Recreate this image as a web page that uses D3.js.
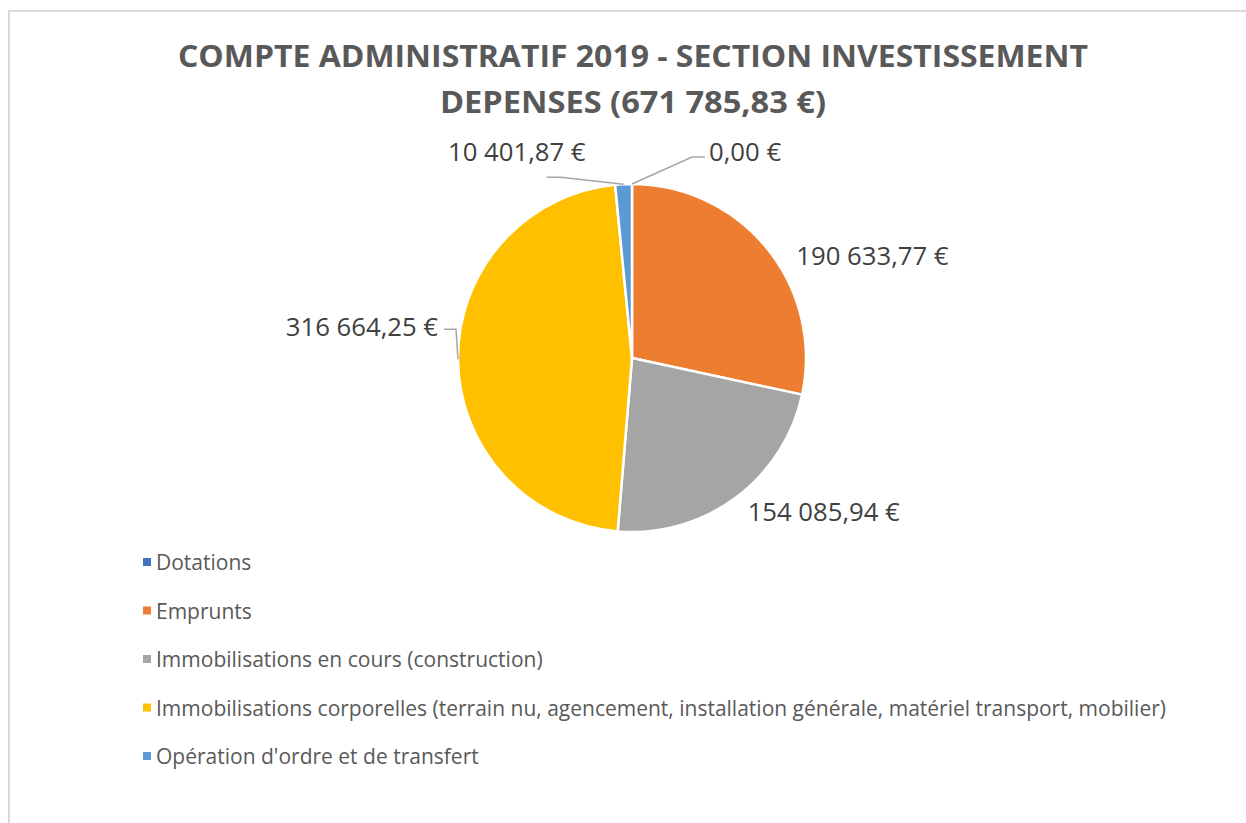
<!DOCTYPE html>
<html>
<head>
<meta charset="utf-8">
<script src="https://cdn.jsdelivr.net/npm/d3@7"></script>
<style>
  body { margin: 0; background: #fff; }
  svg { display: block; }
</style>
</head>
<body>
<div id="chart-container"></div>
<script>
const categories = [
  "Dotations",
  "Emprunts",
  "Immobilisations en cours (construction)",
  "Immobilisations corporelles (terrain nu, agencement, installation générale, matériel transport, mobilier)",
  "Opération d'ordre et de transfert",
];
const values = [0, 190633.77, 154085.94, 316664.25, 10401.87];
const colors = ["#4472C4", "#ED7D31", "#A5A5A5", "#FFC000", "#5B9BD5"];
const titleLines = [
  "COMPTE ADMINISTRATIF 2019 - SECTION INVESTISSEMENT",
  "DEPENSES (671 785,83 €)",
];

const width = 1246;
const height = 823;
const cx = 632;
const cy = 358;
const radius = 174;
const textColor = "#595959";

const fr = d3.formatLocale({
  decimal: ",",
  thousands: " ",
  grouping: [3],
  currency: ["", " €"],
});
const euro = fr.format("$,.2f");

const svg = d3
  .select("#chart-container")
  .append("svg")
  .attr("width", width)
  .attr("height", height);

// chart area border (runs off the right / bottom edge)
svg
  .append("rect")
  .attr("x", 9)
  .attr("y", 11)
  .attr("width", width + 20)
  .attr("height", height + 20)
  .attr("fill", "none")
  .attr("stroke", "#d9d9d9")
  .attr("stroke-width", 2);

// title
const titleWidths = [910, 386];
svg
  .append("g")
  .selectAll("text")
  .data(titleLines)
  .join("text")
  .attr("x", cx + 1)
  .attr("y", (d, i) => 67 + i * 46)
  .attr("text-anchor", "middle")
  .attr("font-family", "'Open Sans', sans-serif")
  .attr("font-weight", 700)
  .attr("font-size", 30)
  .attr("fill", textColor)
  .attr("textLength", (d, i) => titleWidths[i])
  .attr("lengthAdjust", "spacingAndGlyphs")
  .text((d) => d);

// pie
const pie = d3.pie().sort(null).value((d) => d);
const arcs = pie(values);
const arc = d3.arc().innerRadius(0).outerRadius(radius);

const g = svg.append("g").attr("transform", `translate(${cx},${cy})`);

g.selectAll("path")
  .data(arcs)
  .join("path")
  .attr("d", arc)
  .attr("fill", (d, i) => colors[i])
  .attr("stroke", "#fff")
  .attr("stroke-width", 2.5)
  .attr("stroke-linejoin", "round");

// data labels, placed like Excel's "best fit"
const edge = (a) => {
  const m = (a.startAngle + a.endAngle) / 2;
  return [radius * Math.sin(m), -radius * Math.cos(m)];
};
const labelLayout = [
  { dx: 77, dy: -33, anchor: "start", leader: (l) => [[l[0] - 17, l[1] + 6], [l[0] - 4, l[1] + 6]] },
  { dx: 29, dy: 7, anchor: "start" },
  { dx: 12, dy: 14, anchor: "start" },
  { dx: -20, dy: -33, anchor: "end", leader: (l) => [[l[0] + 18, l[1] + 3], [l[0] + 6, l[1] + 3]] },
  { dx: -38, dy: -33, anchor: "end", leader: (l) => [[l[0] - 25, l[1] + 26], [l[0] - 39, l[1] + 26]] },
];

const labels = arcs.map((a, i) => {
  const p = edge(a);
  const lay = labelLayout[i];
  const l = [p[0] + lay.dx, p[1] + lay.dy];
  return { p, l, lay, text: euro(values[i]) };
});

g.selectAll("path.leader")
  .data(labels.filter((d) => d.lay.leader))
  .join("path")
  .attr("class", "leader")
  .attr("d", (d) => d3.line()([d.p, ...d.lay.leader(d.l)]))
  .attr("fill", "none")
  .attr("stroke", "#a6a6a6")
  .attr("stroke-width", 1.5);

g.selectAll("text.label")
  .data(labels)
  .join("text")
  .attr("class", "label")
  .attr("x", (d) => d.l[0])
  .attr("y", (d) => d.l[1])
  .attr("text-anchor", (d) => d.lay.anchor)
  .attr("dominant-baseline", "central")
  .attr("font-family", "'Open Sans', sans-serif")
  .attr("font-size", 25.7)
  .attr("fill", "#404040")
  .text((d) => d.text);

// legend
const legend = svg
  .append("g")
  .attr("transform", "translate(143,562)");

const item = legend
  .selectAll("g")
  .data(categories)
  .join("g")
  .attr("transform", (d, i) => `translate(0,${i * 48.5})`);

item
  .append("rect")
  .attr("x", 0)
  .attr("y", -4)
  .attr("width", 8)
  .attr("height", 8)
  .attr("fill", (d, i) => colors[i]);

item
  .append("text")
  .attr("x", 13)
  .attr("y", 0)
  .attr("dominant-baseline", "central")
  .attr("font-family", "'Open Sans', sans-serif")
  .attr("font-size", 21)
  .attr("fill", textColor)
  .text((d) => d);
</script>
</body>
</html>
